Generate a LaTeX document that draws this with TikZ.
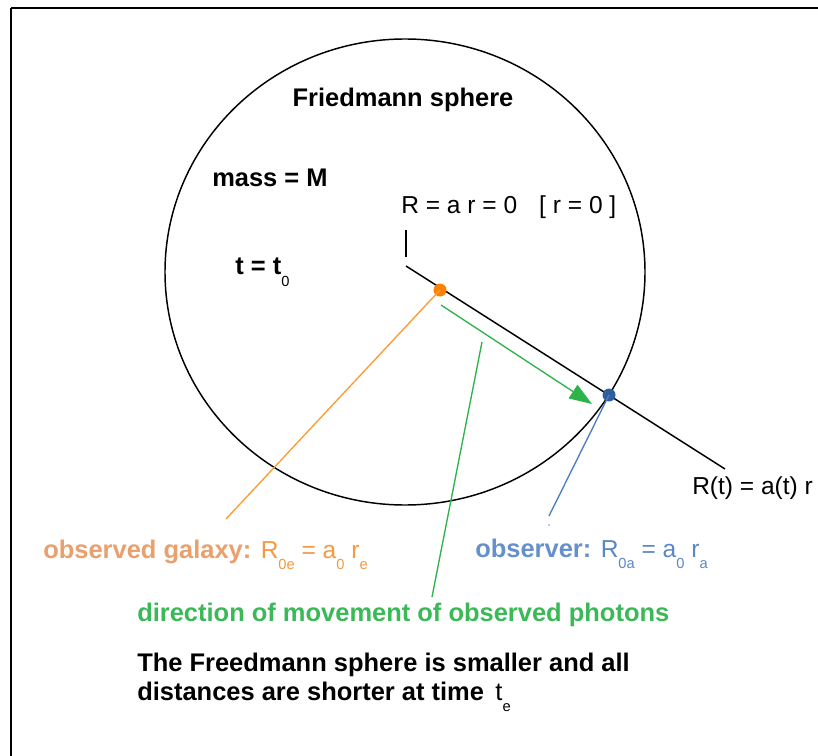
\documentclass[tikz,border=0pt]{standalone}
\usepackage{fontspec}
\setmainfont{Liberation Sans}
\usetikzlibrary{arrows.meta}
\definecolor{orline}{HTML}{FF9A33}
\definecolor{ordot}{HTML}{FF8000}
\definecolor{ortextb}{HTML}{E9A06C}
\definecolor{ortextr}{HTML}{F39A45}
\definecolor{bldot}{HTML}{2E5E9E}
\definecolor{blline}{HTML}{4A7EC2}
\definecolor{bltextb}{HTML}{6690CC}
\definecolor{bltextr}{HTML}{5B87C7}
\definecolor{grline}{HTML}{2DB34A}
\definecolor{grtext}{HTML}{3BB957}
\newcommand\sbs[1]{\raisebox{-0.47em}{\fontseries{m}\fontsize{11}{11}\selectfont #1}}
\tikzset{
  bigb/.style={inner sep=0pt, anchor=base west, font=\fontsize{19.1}{22}\selectfont\bfseries},
  regt/.style={inner sep=0pt, anchor=base west, font=\fontsize{18.4}{22}\selectfont},
  dotnode/.style={circle, inner sep=0pt, minimum size=13*0.75pt},
}
\begin{document}
\begin{tikzpicture}[x=0.75pt,y=-0.75pt]
\useasboundingbox (0,0) rectangle (818,756);
\fill[white] (0,0) rectangle (818,756);
% frame
\draw[line width=1.6pt] (11,8) -- (830,8);
\draw[line width=1.6pt] (11,8) -- (11,770);
% sphere
\draw[line width=1.1pt] (405,272) ellipse [x radius=240, y radius=233];
% radial line
\coordinate (origin) at (406,266);
\coordinate (lineend) at (725,469);
\draw[line width=1.1pt] (origin) -- (lineend);
\coordinate (tickt) at (406,230);
\coordinate (tickb) at (406,257);
\draw[line width=0.9pt] (tickt) -- (tickb);
% galaxy
\node[dotnode, fill=ordot] (gal) at (440,290) {};
\coordinate (galend) at (226,519);
\draw[orline, line width=1pt] (gal.center) -- (galend);
% observer
\node[dotnode, fill=bldot] (obs) at (609,395) {};
\coordinate (obsend) at (549,516);
\draw[blline, line width=1pt] (obs.center) -- (obsend);
\node[inner sep=0pt, minimum size=2pt, fill=blline!40] (obsmark) at (549,525) {};
% photon arrow
\coordinate (phs) at (441,305);
\coordinate (phe) at (592,404);
\draw[grline, line width=1pt, -{Triangle[length=17pt, width=12pt]}] (phs) -- (phe);
\coordinate (gls) at (482,342);
\coordinate (gle) at (432,597);
\draw[grline, line width=1pt] (gls) -- (gle);
% texts
\node[bigb, anchor=base] (title) at (403,107) {Friedmann sphere};
\node[bigb] (mass) at (212,187) {mass = M};
\node[bigb] (time) at (235,275) {t = t\sbs{0}};
\node[regt] (origlab) at (401,214) {R = a r = 0\hspace{0.9em}[ r = 0 ]};
\node[regt] (rlab) at (692,494) {R(t) = a(t) r};
\node[bigb, text=ortextb] (gallab) at (43,558) {observed galaxy: \textcolor{ortextr}{\fontseries{m}\fontsize{18.4}{22}\selectfont R\sbs{0e} = a\sbs{0} r\sbs{e}}};
\node[bigb, text=bltextb] (obslab) at (475,557) {observer: \textcolor{bltextr}{\fontseries{m}\fontsize{18.4}{22}\selectfont R\sbs{0a} = a\sbs{0} r\sbs{a}}};
\node[bigb, text=grtext] (dirlab) at (137,621) {direction of movement of observed photons};
\node[bigb] (note1) at (137,671) {The Freedmann sphere is smaller and all};
\node[bigb] (note2) at (137,700) {distances are shorter at time\hspace{0.45em}{\fontseries{m}\selectfont t\sbs{e}}};
\end{tikzpicture}
\end{document}
